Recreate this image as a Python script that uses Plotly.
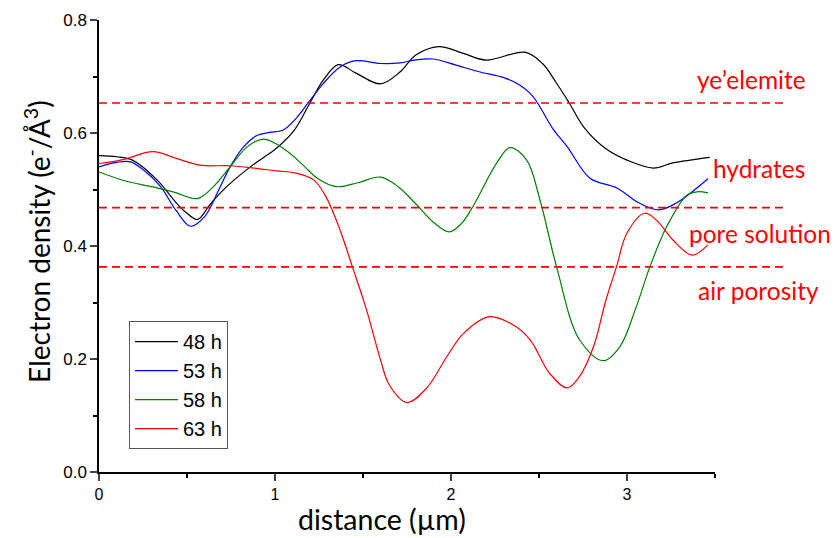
import plotly.graph_objects as go

# ---- data ----
x_48 = [0, 0.1, 0.19, 0.33, 0.44, 0.5, 0.56, 0.63, 0.705, 0.86, 0.97, 1.02, 1.11, 1.2, 1.275, 1.36, 1.46, 1.6, 1.71, 1.8, 1.93, 2.07, 2.2, 2.42, 2.52, 2.6, 2.67, 2.76, 2.88, 3.0, 3.15, 3.26, 3.47]
y_48 = [0.560, 0.558, 0.552, 0.517, 0.476, 0.458, 0.447, 0.473, 0.499, 0.540, 0.564, 0.576, 0.605, 0.654, 0.694, 0.721, 0.706, 0.687, 0.708, 0.738, 0.753, 0.741, 0.729, 0.743, 0.723, 0.688, 0.654, 0.608, 0.572, 0.552, 0.538, 0.547, 0.557]

x_53 = [0, 0.1, 0.18, 0.27, 0.35, 0.44, 0.52, 0.6, 0.68, 0.745, 0.82, 0.9, 0.97, 1.045, 1.12, 1.19, 1.275, 1.37, 1.46, 1.6, 1.71, 1.79, 1.9, 2.03, 2.165, 2.3, 2.39, 2.45, 2.49, 2.58, 2.66, 2.79, 2.94, 3.07, 3.18, 3.28, 3.46]
y_53 = [0.540, 0.548, 0.549, 0.530, 0.505, 0.462, 0.435, 0.452, 0.499, 0.540, 0.575, 0.596, 0.601, 0.605, 0.626, 0.654, 0.688, 0.717, 0.728, 0.723, 0.724, 0.729, 0.731, 0.720, 0.708, 0.698, 0.685, 0.670, 0.654, 0.607, 0.576, 0.520, 0.503, 0.476, 0.464, 0.476, 0.519]

x_58 = [0, 0.15, 0.3, 0.43, 0.56, 0.65, 0.745, 0.84, 0.93, 1.0, 1.085, 1.17, 1.24, 1.35, 1.47, 1.6, 1.7, 1.805, 1.9, 1.99, 2.06, 2.125, 2.26, 2.335, 2.43, 2.506, 2.6, 2.73, 2.865, 2.96, 3.05, 3.13, 3.225, 3.34, 3.4, 3.46]
y_58 = [0.531, 0.515, 0.505, 0.495, 0.484, 0.505, 0.540, 0.575, 0.589, 0.582, 0.564, 0.540, 0.520, 0.505, 0.512, 0.522, 0.505, 0.473, 0.442, 0.425, 0.440, 0.470, 0.547, 0.574, 0.552, 0.481, 0.363, 0.234, 0.197, 0.222, 0.290, 0.363, 0.434, 0.490, 0.496, 0.494]

x_63 = [0, 0.136, 0.307, 0.44, 0.574, 0.745, 0.88, 1.01, 1.12, 1.22, 1.29, 1.37, 1.44, 1.52, 1.6, 1.65, 1.75, 1.86, 1.976, 2.07, 2.22, 2.355, 2.45, 2.56, 2.66, 2.73, 2.81, 2.88, 2.94, 3.0, 3.1, 3.17, 3.26, 3.37, 3.46]
y_63 = [0.546, 0.553, 0.567, 0.555, 0.543, 0.542, 0.538, 0.533, 0.529, 0.517, 0.487, 0.428, 0.363, 0.287, 0.198, 0.154, 0.123, 0.148, 0.204, 0.245, 0.275, 0.260, 0.234, 0.175, 0.149, 0.169, 0.222, 0.304, 0.363, 0.423, 0.458, 0.445, 0.411, 0.384, 0.402]

series_names = ["48 h", "53 h", "58 h", "63 h"]
series_colors = ["#000000", "#0000ff", "#008000", "#ff0000"]

level_values = [0.653, 0.468, 0.363]
level_labels = ["ye’elemite", "hydrates", "pore solution", "air porosity"]
level_label_y = [0.694, 0.538, 0.423, 0.322]
level_label_px = [751, 759, 760, 758]

x_ticks = [0, 1, 2, 3]
y_ticks = [0.0, 0.2, 0.4, 0.6, 0.8]
y_tick_text = ["0.0", "0.2", "0.4", "0.6", "0.8"]

# ---- figure ----
fig = go.Figure()
for xs, ys, name, col in zip([x_48, x_53, x_58, x_63], [y_48, y_53, y_58, y_63], series_names, series_colors):
    fig.add_trace(go.Scatter(x=xs, y=ys, mode="lines", name=name,
                             line=dict(color=col, width=1.2, shape="spline", smoothing=1.0)))

for v in level_values:
    fig.add_shape(type="line", xref="paper", yref="y", x0=0, x1=1.114, y0=v, y1=v,
                  line=dict(color="#ff0000", width=1.6, dash="8px,5px"))

for txt, yy, px in zip(level_labels, level_label_y, level_label_px):
    fig.add_annotation(text=txt, xref="paper", yref="y", x=(px - 99) / 616, y=yy, showarrow=False,
                       xanchor="center", yanchor="middle",
                       font=dict(family="Lato", size=24.5, color="#ff0000"))

fig.add_annotation(text="distance (µm)", xref="paper", yref="paper", x=(382 - 99) / 616, y=-0.105,
                   showarrow=False, xanchor="center", yanchor="middle",
                   font=dict(family="Lato", size=28.5, color="#000000"))
fig.add_annotation(text="Electron density (e<sup>-</sup>/Å<sup>3</sup>)", xref="paper", yref="paper",
                   x=-0.1, y=0.51, showarrow=False, textangle=-90, xanchor="center", yanchor="middle",
                   font=dict(family="Lato", size=28, color="#000000"))

fig.update_layout(
    width=840, height=538,
    margin=dict(l=99, r=125, t=20, b=66),
    paper_bgcolor="white", plot_bgcolor="white",
    showlegend=True,
    legend=dict(x=0.0487, y=0.334, xanchor="left", yanchor="top",
                bordercolor="#555555", borderwidth=1, bgcolor="white",
                font=dict(family="Liberation Sans", size=20, color="#000000"),
                itemwidth=43, tracegroupgap=0),
    xaxis=dict(range=[0, 3.5], tickvals=x_ticks, ticks="outside", ticklen=7, tickwidth=1.5,
               showline=True, linecolor="black", linewidth=1.5, showgrid=False, zeroline=False,
               tickfont=dict(family="Liberation Sans", size=16, color="black"),
               minor=dict(dtick=0.5, ticks="outside", ticklen=4, tickwidth=1.5, tickcolor="black")),
    yaxis=dict(range=[0, 0.8], tickvals=y_ticks, ticktext=y_tick_text, ticks="outside", ticklen=7, tickwidth=1.5,
               showline=True, linecolor="black", linewidth=1.5, showgrid=False, zeroline=False,
               tickfont=dict(family="Liberation Sans", size=17, color="black"),
               minor=dict(dtick=0.1, ticks="outside", ticklen=4, tickwidth=1.5, tickcolor="black")),
)

fig.write_html("out.html")
